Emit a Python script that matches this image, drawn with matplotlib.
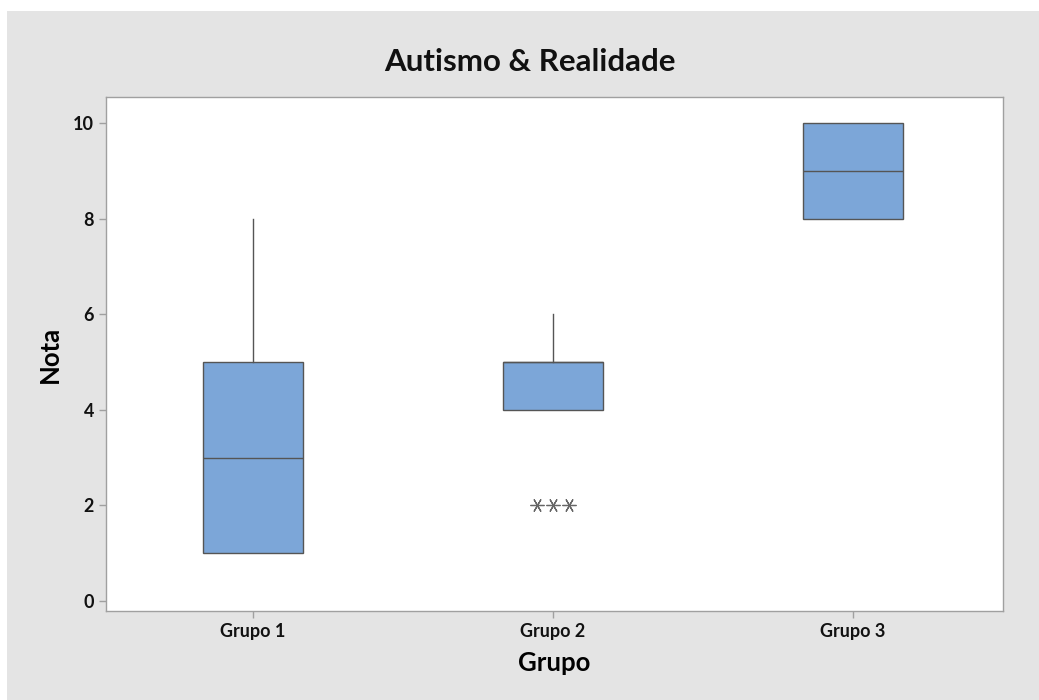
import matplotlib.pyplot as plt
from matplotlib.patches import Rectangle

# Resumo das notas por grupo
grupos = ['Grupo 1', 'Grupo 2', 'Grupo 3']
q1 = [1, 4, 8]
mediana = [3, 5, 9]
q3 = [5, 5, 10]
whisker_inf = [1, 4, 8]
whisker_sup = [8, 6, 10]
outliers = [[], [2, 2, 2], []]

fundo = '#e4e4e4'
caixa = '#7ca6d8'
linha = '#555555'

plt.rcParams['font.family'] = ['Lato', 'DejaVu Sans']

fig = plt.figure(figsize=(10.39, 7), dpi=100, facecolor='white')
fig.patches.append(Rectangle((7 / 1039, 0), 1, 1 - 11 / 700, transform=fig.transFigure,
                             facecolor=fundo, edgecolor='none', zorder=-1))
ax = fig.add_axes([0.102, 0.1271, 0.8633, 0.7343])
ax.set_facecolor('white')

posicoes = list(range(1, len(grupos) + 1))
stats = []
for i, g in enumerate(grupos):
    stats.append(dict(label=g, q1=q1[i], med=mediana[i], q3=q3[i],
                      whislo=whisker_inf[i], whishi=whisker_sup[i], fliers=[]))

ax.bxp(stats, positions=posicoes, widths=0.333, showcaps=False, patch_artist=True,
       boxprops=dict(facecolor=caixa, edgecolor=linha, linewidth=1.0),
       medianprops=dict(color=linha, linewidth=1.0),
       whiskerprops=dict(color=linha, linewidth=1.0))

# valores repetidos ficam lado a lado
for pos, vals in zip(posicoes, outliers):
    n = len(vals)
    for k, v in enumerate(vals):
        dx = (k - (n - 1) / 2) * 0.053
        ax.plot(pos + dx, v, marker=(6, 2, 30), markersize=10, color='#666666',
                markeredgewidth=0.9, linestyle='none')

ax.set_xlim(0.51, 3.5)
ax.set_ylim(-0.215, 10.55)
ax.set_yticks([0, 2, 4, 6, 8, 10])
ax.set_xticks(posicoes)
ax.set_xticklabels(grupos)

for s in ax.spines.values():
    s.set_color('#a0a0a0')
    s.set_linewidth(1.0)
ax.tick_params(axis='both', direction='out', length=5, width=1, color='#a0a0a0',
               labelsize=13, labelcolor='#111111')
for t in ax.get_xticklabels() + ax.get_yticklabels():
    t.set_fontweight('bold')

ax.set_xlabel('Grupo', fontsize=18.5, fontweight='bold', labelpad=8)
ax.set_ylabel('Nota', fontsize=18.5, fontweight='bold', labelpad=8)
fig.text(0.51, 0.911, 'Autismo & Realidade', ha='center', va='center',
         fontsize=22.5, fontweight='bold', color='#111111')

fig.savefig('out.png', dpi=100, facecolor=fig.get_facecolor())
